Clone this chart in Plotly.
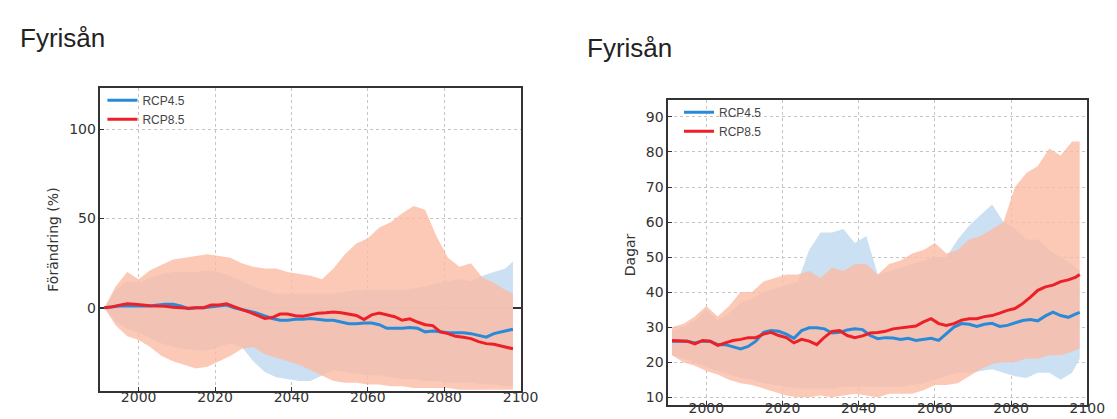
import plotly.graph_objects as go

# ---------------- data ----------------
BAND_YEARS = [1991, 1994, 1997, 2000, 2003, 2006, 2009, 2012, 2015, 2018, 2021, 2024, 2027,
              2030, 2033, 2036, 2039, 2042, 2045, 2048, 2051, 2054, 2057, 2060, 2063, 2066,
              2069, 2072, 2075, 2078, 2081, 2084, 2087, 2090, 2093, 2096, 2098]
MED_YEARS = list(range(1991, 2098, 2)) + [2098]

# Left panel: Förändring (%)
L_RCP45_HI = [0, 10, 15, 14, 17, 19, 20, 20, 20, 21, 20, 18, 15, 12, 10, 8, 8, 8, 8, 8, 8, 9, 10,
              10, 10, 10, 10, 11, 12, 14, 15, 16, 15, 18, 20, 22, 26]
L_RCP45_LO = [0, -8, -12, -14, -17, -20, -22, -23, -24, -24, -22, -20, -22, -30, -36, -39, -40,
              -41, -41, -38, -35, -36, -37, -38, -38, -39, -40, -40, -41, -41, -42, -42, -42,
              -43, -43, -44, -44]
L_RCP85_HI = [0, 12, 20, 16, 21, 24, 27, 28, 29, 30, 29, 28, 25, 23, 22, 22, 20, 19, 18, 16, 22,
              30, 36, 39, 45, 48, 53, 57, 55, 40, 28, 23, 25, 17, 14, 10, 8]
L_RCP85_LO = [0, -10, -16, -18, -22, -27, -30, -32, -34, -33, -30, -27, -23, -22, -26, -28, -30,
              -32, -35, -38, -41, -42, -42, -43, -43, -44, -44, -45, -45, -45, -45, -46, -46,
              -46, -46, -46, -46]
L_RCP45_MED = [0, 0.5, 1, 1, 1, 1, 1, 1.5, 2, 2, 1, -0.5, 0, 0, 0.5, 1, 1.5, 0, -1, -2, -3, -4.5,
               -6, -7, -7, -6.5, -6.5, -6, -6.5, -7, -7, -8, -9, -9, -8.5, -8.5, -9.5, -11.5,
               -11.5, -11.5, -11, -11.5, -13.5, -13, -13.5, -14, -14, -14, -14.5, -15.5, -16.5,
               -14.5, -13.5, -12.5, -12]
L_RCP85_MED = [0, 0.5, 1.5, 2.2, 2, 1.5, 1.2, 1, 0.9, 0.3, 0, -0.3, 0, 0, 1.5, 1.5, 2.2, 0.5, -1,
               -2.4, -4, -6, -5.5, -3.5, -3.5, -4.5, -4.8, -4, -3, -2.8, -2.4, -2.8, -3.5, -4.3,
               -6.6, -4, -3, -3.8, -5, -7, -6.2, -8, -9.5, -10, -13.5, -14.5, -16, -16.5, -17.3,
               -19, -20.1, -20.5, -21.5, -22.5, -23]

# Right panel: Dagar
R_RCP45_HI = [29, 30, 32, 35, 32, 34, 37, 38, 40, 41, 42, 43, 52, 57, 57, 58, 54, 56, 45, 46, 47,
              48, 49, 50, 50, 55, 59, 62, 65, 60, 58, 55, 55, 52, 50, 48, 46]
R_RCP45_LO = [22, 21, 20, 18.5, 17.5, 16.5, 15.5, 15, 14, 13.5, 13, 12.5, 12.5, 12.5, 12.5, 13,
              13, 13, 13, 13, 13, 13.5, 14, 15, 16, 17, 17, 17.5, 18, 17, 16, 15.5, 17, 17, 15,
              17, 21]
R_RCP85_HI = [30, 31, 33, 36, 33, 36, 40, 40, 43, 44, 45, 45, 46, 44, 47, 46, 48, 48, 45, 48, 49,
              51, 52, 54, 51, 52, 55, 56, 58, 60, 70, 74, 76, 81, 79, 83, 83]
R_RCP85_LO = [22, 20, 19, 17.5, 16.5, 15, 14, 13.5, 12.5, 11.5, 10.5, 10, 10, 10.5, 10, 10.5, 11,
              10.5, 10, 11, 11, 11, 12, 13.5, 13.5, 14, 16, 18, 19.5, 20, 20, 21, 21, 22, 22,
              23, 24]
R_RCP45_MED = [26, 26, 26, 25.5, 26, 26, 25, 25, 24.5, 23.8, 24.5, 26, 28.5, 29, 28.8, 28, 26.8,
               29, 29.8, 29.8, 29.5, 28.3, 28.5, 29.2, 29.5, 29.3, 27.6, 26.7, 27, 26.9, 26.5,
               26.8, 26.2, 26.5, 26.8, 26.2, 28, 30, 31, 30.8, 30.2, 30.8, 31.1, 30.2, 30.5,
               31.2, 31.9, 32.2, 31.8, 33.2, 34.3, 33.3, 32.8, 33.8, 34.2]
R_RCP85_MED = [26.2, 26, 26, 25.2, 26.2, 26, 24.8, 25.5, 26.2, 26.5, 27, 27, 28, 28.5, 27.6, 27,
               25.5, 26.5, 26, 25, 27.1, 28.8, 29, 27.6, 27, 27.5, 28.3, 28.5, 28.8, 29.5, 29.8,
               30, 30.3, 31.5, 32.4, 31, 30.5, 31, 32, 32.4, 32.4, 33, 33.3, 34, 34.8, 35.3,
               36.7, 38.5, 40.5, 41.5, 42, 43, 43.5, 44.3, 45]

SERIES = ["RCP4.5", "RCP8.5"]
TITLE = "Fyrisån"
L_YLABEL = "Förändring (%)"
R_YLABEL = "Dagar"
L_YTICKS = [0, 50, 100]
R_YTICKS = [10, 20, 30, 40, 50, 60, 70, 80, 90]
X_TICKS = [2000, 2020, 2040, 2060, 2080, 2100]

# ---------------- styling ----------------
W, H = 1117, 419
BLUE_LINE = "#2a8ad8"
RED_LINE = "#ec2028"
BLUE_FILL = "rgba(200,222,242,0.95)"
RED_FILL = "rgba(251,188,165,0.8)"
TICK_FONT = dict(family="DejaVu Sans", size=14, color="#333333")


def band(years, hi, lo, color, xa, ya):
    return go.Scatter(x=years + years[::-1], y=hi + lo[::-1], fill="toself",
                      fillcolor=color, line=dict(width=0), mode="lines",
                      hoverinfo="skip", showlegend=False, xaxis=xa, yaxis=ya)


def med(years, vals, color, name, xa, ya, leg):
    return go.Scatter(x=years, y=vals, mode="lines", name=name,
                      line=dict(color=color, width=3), xaxis=xa, yaxis=ya, legend=leg)


fig = go.Figure()
# left panel
fig.add_trace(band(BAND_YEARS, L_RCP45_HI, L_RCP45_LO, BLUE_FILL, "x", "y"))
fig.add_trace(band(BAND_YEARS, L_RCP85_HI, L_RCP85_LO, RED_FILL, "x", "y"))
fig.add_trace(med(MED_YEARS, L_RCP45_MED, BLUE_LINE, SERIES[0], "x", "y", "legend"))
fig.add_trace(med(MED_YEARS, L_RCP85_MED, RED_LINE, SERIES[1], "x", "y", "legend"))
# right panel
fig.add_trace(band(BAND_YEARS, R_RCP45_HI, R_RCP45_LO, BLUE_FILL, "x2", "y2"))
fig.add_trace(band(BAND_YEARS, R_RCP85_HI, R_RCP85_LO, RED_FILL, "x2", "y2"))
fig.add_trace(med(MED_YEARS, R_RCP45_MED, BLUE_LINE, SERIES[0], "x2", "y2", "legend2"))
fig.add_trace(med(MED_YEARS, R_RCP85_MED, RED_LINE, SERIES[1], "x2", "y2", "legend2"))

axis_common = dict(showline=True, linecolor="#333333", linewidth=1.5, mirror=True,
                   showgrid=True, gridcolor="#c4c4c4", griddash="dot", gridwidth=1,
                   ticks="inside", ticklen=4, tickcolor="#333333", tickfont=TICK_FONT,
                   fixedrange=True)

fig.update_layout(
    width=W, height=H, margin=dict(l=0, r=0, t=0, b=0),
    paper_bgcolor="white", plot_bgcolor="white",
    xaxis=dict(domain=[94 / W, 521 / W], range=[1990, 2100], tickvals=X_TICKS,
               anchor="y", ticklabelstandoff=-8, zeroline=False, **axis_common),
    yaxis=dict(domain=[1 - 384 / H, 1 - 80 / H], range=[-46.7, 123.3], tickvals=L_YTICKS,
               anchor="x", zeroline=True, zerolinecolor="#333333", zerolinewidth=1.5,
               **axis_common),
    xaxis2=dict(domain=[671 / W, 1097 / W], range=[1990, 2100], tickvals=X_TICKS,
                anchor="y2", ticklabelstandoff=-10, zeroline=False, **axis_common),
    yaxis2=dict(domain=[1 - 397.5 / H, 1 - 92.7 / H], range=[7.9, 94.7], tickvals=R_YTICKS,
                anchor="x2", zeroline=False, **axis_common),
    legend=dict(x=96 / W, y=1 - 78 / H, xanchor="left", yanchor="top",
                bgcolor="rgba(0,0,0,0)", itemwidth=30, tracegroupgap=0,
                font=dict(family="Liberation Sans", size=12, color="#444444")),
    legend2=dict(x=682 / W, y=1 - 90 / H, xanchor="left", yanchor="top",
                 bgcolor="rgba(0,0,0,0)", itemwidth=30, tracegroupgap=0,
                 font=dict(family="Liberation Sans", size=12, color="#444444")),
    annotations=[
        dict(text=TITLE, x=10 / W, y=1 - 30 / H, xref="paper", yref="paper",
             xanchor="left", yanchor="middle", showarrow=False,
             font=dict(family="Liberation Sans", size=26, color="#222222")),
        dict(text=TITLE, x=586 / W, y=1 - 40 / H, xref="paper", yref="paper",
             xanchor="left", yanchor="middle", showarrow=False,
             font=dict(family="Liberation Sans", size=26, color="#222222")),
        dict(text=L_YLABEL, x=46 / W, y=1 - 232 / H, xref="paper", yref="paper",
             xanchor="center", yanchor="middle", showarrow=False, textangle=-90,
             font=dict(family="DejaVu Sans", size=14, color="#333333")),
        dict(text=R_YLABEL, x=633 / W, y=1 - 247 / H, xref="paper", yref="paper",
             xanchor="center", yanchor="middle", showarrow=False, textangle=-90,
             font=dict(family="DejaVu Sans", size=14, color="#333333")),
    ],
)

fig.write_html("out.html")
